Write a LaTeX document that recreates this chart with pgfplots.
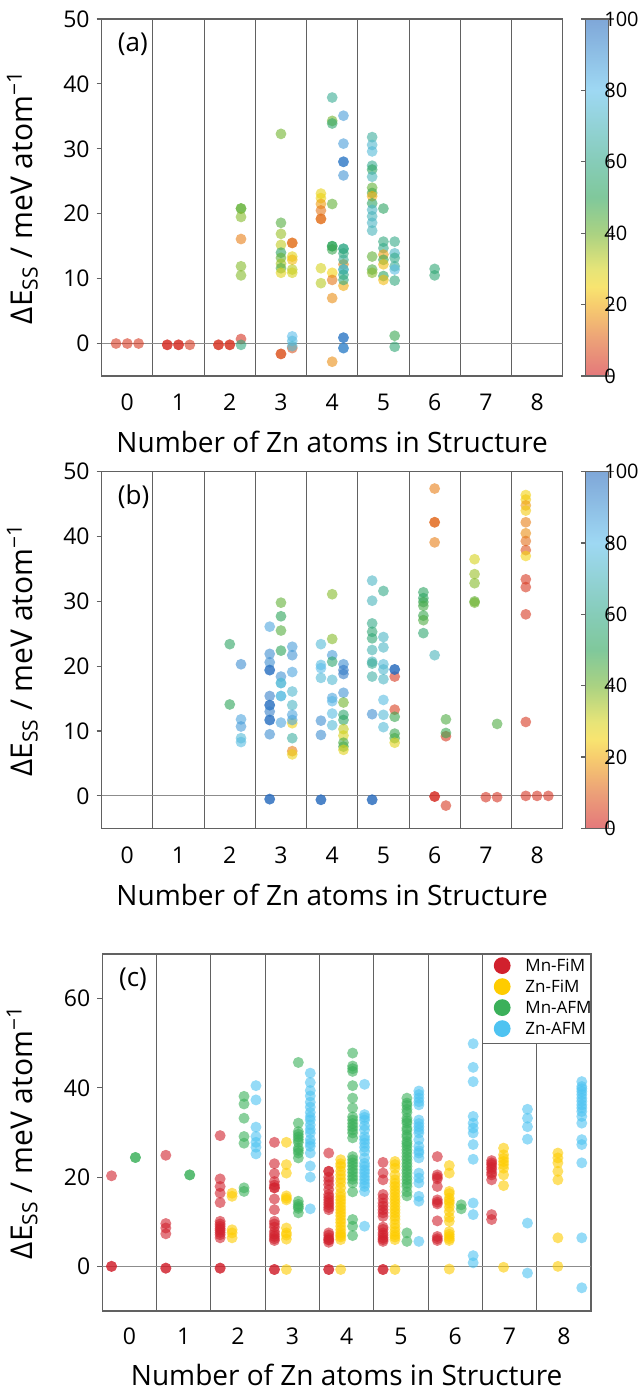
\documentclass[border=0pt]{standalone}
\usepackage{fontspec}
\setmainfont{Open Sans}
\usepackage{pgfplots}
\usepackage{pgfplotstable}
\pgfplotsset{compat=1.18}

\definecolor{frame}{gray}{0.38}
\definecolor{zeroline}{gray}{0.55}
\definecolor{mnfim}{RGB}{209,33,45}
\definecolor{znfim}{RGB}{254,204,0}
\definecolor{mnafm}{RGB}{59,176,90}
\definecolor{znafm}{RGB}{78,195,241}

\tikzset{divider/.style={draw=frame, line width=0.5pt}}

\pgfplotsset{
  /pgf/number format/assume math mode=true,
  colormap={energy}{rgb255(0pt)=(210,30,35) rgb255(10pt)=(223,97,30) rgb255(20pt)=(242,172,13) rgb255(25pt)=(243,210,17) rgb255(30pt)=(213,210,30) rgb255(40pt)=(113,180,47) rgb255(50pt)=(43,163,88) rgb255(60pt)=(53,170,137) rgb255(80pt)=(93,190,235) rgb255(100pt)=(42,108,190)},
  colormap={energylight}{rgb255(0pt)=(228,120,123) rgb255(10pt)=(236,160,120) rgb255(20pt)=(247,205,110) rgb255(25pt)=(248,228,112) rgb255(30pt)=(230,228,120) rgb255(40pt)=(170,210,130) rgb255(50pt)=(128,200,155) rgb255(60pt)=(134,204,184) rgb255(80pt)=(158,216,243) rgb255(100pt)=(127,167,216)},
  panel/.style={
    scale only axis,
    xmin=-0.5, xmax=8.5,
    xtick={0,...,8},
    xtick pos=bottom, ytick pos=left,
    axis line style={draw=frame, line width=0.6pt},
    major x tick style={draw=none},
    major y tick style={draw=frame, line width=0.6pt},
    tick align=outside,
    major tick length=2.5pt,
    tick label style={font=\fontsize{11.5}{12}\selectfont},
    xlabel={Number of Zn atoms in Structure},
    xlabel style={font=\fontsize{14}{14}\selectfont, at={(axis description cs:0.5,0)}, anchor=base},
    ylabel={ΔE\textsubscript{SS} / meV atom\textsuperscript{−1}},
    ylabel style={font=\fontsize{15}{15}\selectfont, anchor=center},
  },
  dots/.style={scatter, only marks, mark=*, mark size=2.7pt, scatter src=explicit,
    scatter/use mapped color={draw=mapped color, fill=mapped color, draw opacity=0, fill opacity=0.6}},
  cbar/.style={colorbar, colormap name=energy, point meta min=0, point meta max=100,
    colorbar style={
      colormap name=energylight,
      at={(parent axis.north east)}, anchor=north west, xshift=3pt,
      width=11.5pt,
      ytick={0,20,...,100},
      axis line style={draw=frame, line width=0.6pt},
      major tick length=2.5pt, tick align=outside,
      major tick style={draw=frame, line width=0.6pt},
      tick label style={font=\fontsize{10}{12}\selectfont, inner sep=0.6pt},
      yticklabel style={xshift=-5.5pt},
    }},
  typed/.style={only marks, mark=*, mark size=2.75pt, mark options={draw opacity=0, fill opacity=0.6}},
}

% (a) energies, x = Zn count + column offset, c = colour value
\pgfplotstableread{
x y c
-0.22 0 4
0 0 4
0.22 0 4
0.78 -0.2 2
0.78 -0.2 2
1 -0.2 2
1 -0.2 2
1.22 -0.2 4
1.78 -0.2 3
1.78 -0.2 3
2 -0.2 3
2 -0.2 3
2.22 20.8 42
2.22 20.8 42
2.22 19.5 38
2.22 16.1 14
2.22 11.9 38
2.22 10.5 38
2.22 0.7 3
2.22 -0.2 58
3 32.3 40
3 18.6 44
3 16.9 36
3 15.2 32
3 14.0 52
3 13.2 42
3 12.3 35
3 11.6 45
3 10.9 28
3 -1.6 8
3 -1.6 8
3.22 15.5 12
3.22 15.5 12
3.22 13.4 28
3.22 12.9 22
3.22 11.4 33
3.22 10.9 30
3.22 -0.7 8
3.22 1.1 80
3.22 0.4 78
3.22 -0.4 75
3.78 23.1 27
3.78 22.4 26
3.78 21.5 18
3.78 20.5 13
3.78 19.2 12
3.78 19.2 12
3.78 11.6 30
3.78 9.3 33
4 37.9 62
4 34.3 40
4 33.9 54
4 21.5 42
4 15.0 50
4 15.0 50
4 14.5 48
4 10.9 25
4 9.8 13
4 7.0 16
4 -2.8 16
4.22 35.1 88
4.22 30.8 88
4.22 28.0 96
4.22 28.0 96
4.22 25.9 90
4.22 12.2 15
4.22 8.9 20
4.22 14.6 60
4.22 14.6 60
4.22 13.9 58
4.22 12.9 62
4.22 11.4 72
4.22 11.4 72
4.22 10.6 60
4.22 9.8 58
4.22 0.9 96
4.22 0.9 96
4.22 -0.7 94
4.22 -0.7 94
4.78 31.8 64
4.78 30.6 74
4.78 29.6 76
4.78 27.4 62
4.78 26.8 52
4.78 25.7 70
4.78 24.0 42
4.78 23.2 46
4.78 22.7 20
4.78 21.6 52
4.78 20.6 72
4.78 19.6 70
4.78 18.6 72
4.78 17.4 70
4.78 13.4 42
4.78 11.4 45
4.78 10.9 38
5 20.8 52
5 15.7 58
5 14.7 60
5 13.7 18
5 12.9 48
5 12.2 22
5 10.4 52
5 9.8 22
5.22 15.7 60
5.22 13.9 72
5.22 13.2 60
5.22 11.9 62
5.22 11.4 78
5.22 9.7 58
5.22 1.2 48
5.22 -0.5 56
6 11.5 56
6 10.5 56
}\dataA

% (b)
\pgfplotstableread{
x y c
2 23.4 52
2 14.1 50
2.22 20.3 92
2.22 11.8 86
2.22 10.7 88
2.22 8.9 76
2.22 8.3 78
2.78 26.1 86
2.78 21.9 92
2.78 20.6 92
2.78 19.4 98
2.78 19.4 98
2.78 15.4 95
2.78 14.0 98
2.78 14.0 98
2.78 13.0 95
2.78 11.7 98
2.78 11.7 98
2.78 9.5 92
2.78 -0.5 100
2.78 -0.5 100
3 29.8 42
3 27.7 50
3 25.5 44
3 22.4 50
3 18.4 90
3 17.4 76
3 17.4 76
3 15.4 78
3 15.4 78
3 11.3 86
3.22 11.2 25
3.22 6.9 14
3.22 6.4 26
3.22 23.0 88
3.22 21.7 90
3.22 19.1 86
3.22 16.1 74
3.22 14.0 72
3.22 12.5 86
3.22 11.7 86
3.22 8.9 65
3.78 23.4 76
3.78 20.2 78
3.78 19.7 80
3.78 18.2 76
3.78 11.6 92
3.78 9.4 92
3.78 -0.6 100
3.78 -0.6 100
4 31.1 38
4 24.2 38
4 21.7 88
4 20.7 55
4 17.9 75
4 15.1 86
4 14.6 82
4 12.7 78
4 10.9 76
4.22 20.3 92
4.22 19.4 96
4.22 18.8 96
4.22 15.9 90
4.22 14.4 40
4.22 12.5 55
4.22 11.7 52
4.22 10.3 32
4.22 9.3 30
4.22 8.2 46
4.22 7.6 46
4.22 7.1 28
4.78 33.2 72
4.78 30.1 70
4.78 26.6 60
4.78 25.3 56
4.78 24.3 56
4.78 22.5 68
4.78 20.7 70
4.78 20.4 62
4.78 18.4 66
4.78 12.6 92
4.78 -0.6 100
4.78 -0.6 100
5 31.6 60
5 24.5 72
5 22.9 72
5 20.3 76
5 19.5 74
5 18.0 72
5 14.8 78
5 12.5 76
5 10.6 76
5.22 18.4 4
5.22 19.5 100
5.22 19.5 100
5.22 13.3 5
5.22 12.2 48
5.22 9.6 48
5.22 8.9 46
5.22 8.2 28
5.78 31.4 52
5.78 30.5 52
5.78 29.9 48
5.78 29.3 46
5.78 27.8 48
5.78 27.1 45
5.78 25.1 55
6 47.4 14
6 42.2 11
6 42.2 11
6 39.1 14
6 21.7 70
6 -0.1 2
6 -0.1 2
6.22 11.8 45
6.22 9.2 4
6.22 9.7 48
6.22 -1.5 4
6.78 36.5 30
6.78 34.2 36
6.78 32.8 38
6.78 30.0 42
6.78 29.8 40
7 -0.2 3
7.22 11.1 45
7.22 -0.2 3
7.78 46.4 25
7.78 45.7 24
7.78 44.8 18
7.78 44.0 24
7.78 42.2 14
7.78 40.5 16
7.78 39.3 12
7.78 37.9 8
7.78 37.0 25
7.78 33.4 4
7.78 32.2 4
7.78 28.0 4
7.78 11.4 4
7.78 0 3
8 0 3
8.22 0 3
}\dataB

% (c) one table per configuration
\pgfplotstableread{
x y
-0.33 20.3
-0.33 0
-0.33 0
0.67 24.9
0.67 9.6
0.67 8.6
0.67 7.3
0.67 -0.4
0.67 -0.4
1.67 29.3
1.67 19.6
1.67 17.9
1.67 16.4
1.67 14.3
1.67 10.1
1.67 9.5
1.67 9.0
1.67 8.5
1.67 8.1
1.67 7.6
1.67 7.1
1.67 6.4
1.67 -0.4
1.67 -0.4
2.67 27.8
2.67 23.0
2.67 20.8
2.67 19.0
2.67 18.2
2.67 17.6
2.67 17.6
2.67 15.1
2.67 12.7
2.67 10.1
2.67 9.5
2.67 8.8
2.67 7.8
2.67 7.2
2.67 6.7
2.67 6.2
2.67 5.8
2.67 -0.7
2.67 -0.7
3.67 25.4
3.67 21.3
3.67 21.3
3.67 20.0
3.67 19.2
3.67 18.3
3.67 17.2
3.67 16.1
3.67 15.5
3.67 14.9
3.67 14.3
3.67 13.8
3.67 13.2
3.67 12.7
3.67 7.5
3.67 7.0
3.67 6.4
3.67 6.0
3.67 5.9
3.67 5.4
3.67 -0.7
3.67 -0.7
4.67 23.3
4.67 20.9
4.67 19.4
4.67 16.1
4.67 15.2
4.67 14.2
4.67 13.5
4.67 12.7
4.67 12.0
4.67 11.2
4.67 8.8
4.67 8.3
4.67 7.5
4.67 7.0
4.67 6.4
4.67 6.0
4.67 5.6
4.67 -0.7
4.67 -0.7
5.67 24.6
5.67 20.5
5.67 20.0
5.67 19.6
5.67 17.9
5.67 14.9
5.67 14.4
5.67 14.0
5.67 10.2
5.67 6.7
5.67 6.2
5.67 5.8
6.67 23.7
6.67 23.2
6.67 22.8
6.67 22.2
6.67 21.7
6.67 21.0
6.67 20.5
6.67 19.4
6.67 11.6
6.67 10.5
}\mnfimdata

\pgfplotstableread{
x y
1.89 16.4
1.89 15.7
1.89 8.2
1.89 7.5
1.89 6.4
2.89 27.8
2.89 22.8
2.89 20.9
2.89 15.8
2.89 15.3
2.89 14.9
2.89 8.6
2.89 7.5
2.89 7.0
2.89 6.1
2.89 -0.7
3.89 23.9
3.89 23.0
3.89 22.4
3.89 21.4
3.89 20.5
3.89 19.6
3.89 18.7
3.89 17.6
3.89 16.4
3.89 15.6
3.89 14.9
3.89 14.2
3.89 13.4
3.89 12.7
3.89 12.0
3.89 11.3
3.89 10.5
3.89 9.8
3.89 9.0
3.89 8.2
3.89 7.5
3.89 7.0
3.89 6.6
3.89 6.0
3.89 -0.7
4.89 23.5
4.89 22.8
4.89 22.0
4.89 20.5
4.89 19.4
4.89 18.6
4.89 17.9
4.89 17.1
4.89 16.4
4.89 15.6
4.89 14.9
4.89 14.2
4.89 13.4
4.89 12.7
4.89 12.0
4.89 11.2
4.89 10.5
4.89 9.5
4.89 8.6
4.89 7.8
4.89 7.1
4.89 6.6
4.89 6.0
4.89 -0.7
5.89 22.6
5.89 20.9
5.89 16.8
5.89 16.3
5.89 15.3
5.89 14.7
5.89 14.2
5.89 13.3
5.89 12.3
5.89 11.0
5.89 10.1
5.89 7.8
5.89 7.2
5.89 6.7
5.89 6.2
5.89 5.8
5.89 -0.6
6.89 26.5
6.89 25.0
6.89 24.2
6.89 23.5
6.89 22.8
6.89 22.0
6.89 20.5
6.89 18.1
6.89 -0.2
7.89 25.4
7.89 24.3
7.89 23.2
7.89 21.3
7.89 19.4
7.89 6.4
7.89 0
}\znfimdata

\pgfplotstableread{
x y
0.11 24.4
0.11 24.4
1.11 20.5
1.11 20.5
2.11 38.1
2.11 36.4
2.11 33.2
2.11 29.1
2.11 27.6
2.11 17.6
2.11 16.8
3.11 45.7
3.11 32.1
3.11 30.2
3.11 29.6
3.11 29.0
3.11 28.4
3.11 27.8
3.11 26.5
3.11 26.0
3.11 25.4
3.11 24.3
3.11 14.6
3.11 13.9
3.11 13.4
3.11 13.0
3.11 12.0
4.11 47.8
4.11 44.9
4.11 44.3
4.11 43.7
4.11 40.5
4.11 37.7
4.11 35.5
4.11 33.5
4.11 32.8
4.11 32.0
4.11 31.3
4.11 30.6
4.11 29.9
4.11 28.8
4.11 24.6
4.11 23.9
4.11 23.2
4.11 22.5
4.11 21.7
4.11 21.0
4.11 20.2
4.11 19.5
4.11 18.7
4.11 16.7
4.11 10.5
4.11 9.0
4.11 6.9
5.11 37.7
5.11 36.6
5.11 36.1
5.11 35.2
5.11 34.5
5.11 33.2
5.11 32.6
5.11 32.1
5.11 31.0
5.11 30.5
5.11 29.5
5.11 29.0
5.11 28.0
5.11 27.5
5.11 26.9
5.11 26.1
5.11 25.4
5.11 24.6
5.11 23.9
5.11 23.1
5.11 22.4
5.11 21.6
5.11 20.9
5.11 20.1
5.11 19.4
5.11 18.6
5.11 17.9
5.11 16.7
5.11 15.8
5.11 7.5
5.11 5.6
6.11 13.8
6.11 12.9
}\mnafmdata

\pgfplotstableread{
x y
2.33 40.5
2.33 37.3
2.33 31.2
2.33 29.1
2.33 27.8
2.33 26.7
2.33 25.2
3.33 43.3
3.33 41.2
3.33 39.4
3.33 38.2
3.33 36.8
3.33 35.7
3.33 34.5
3.33 33.5
3.33 32.8
3.33 31.7
3.33 30.7
3.33 29.9
3.33 28.4
3.33 27.6
3.33 26.9
3.33 25.4
3.33 22.5
3.33 20.0
3.33 12.9
4.33 40.8
4.33 34.0
4.33 33.4
4.33 32.8
4.33 31.5
4.33 30.6
4.33 29.1
4.33 28.4
4.33 27.6
4.33 26.7
4.33 25.8
4.33 24.3
4.33 23.1
4.33 22.4
4.33 21.6
4.33 20.9
4.33 20.1
4.33 19.4
4.33 18.6
4.33 17.9
4.33 16.8
4.33 9.0
5.33 39.3
5.33 38.5
5.33 37.7
5.33 36.9
5.33 36.2
5.33 32.8
5.33 32.0
5.33 31.3
5.33 30.6
5.33 29.9
5.33 28.4
5.33 26.9
5.33 25.9
5.33 25.4
5.33 24.3
5.33 20.9
5.33 19.8
5.33 18.7
5.33 15.7
5.33 14.6
5.33 5.6
6.33 49.9
6.33 44.6
6.33 41.4
6.33 33.6
6.33 32.1
6.33 31.0
6.33 29.9
6.33 27.3
6.33 24.0
6.33 14.2
6.33 11.6
6.33 2.4
6.33 0.8
7.33 35.2
7.33 33.2
7.33 31.3
7.33 28.5
7.33 9.7
7.33 -1.5
8.33 41.4
8.33 40.3
8.33 39.8
8.33 39.2
8.33 38.5
8.33 37.7
8.33 37.0
8.33 36.2
8.33 35.5
8.33 34.7
8.33 33.6
8.33 32.1
8.33 28.4
8.33 27.3
8.33 23.2
8.33 6.4
8.33 -4.8
}\znafmdata

\begin{document}
\begin{tikzpicture}
\useasboundingbox (0,0) rectangle (321.5pt,696pt);

% panel (a)
\begin{axis}[panel, cbar, at={(50.85pt,508pt)}, anchor=south west,
  width=230.5pt, height=178.5pt,
  ymin=-5, ymax=50, ytick={0,10,...,50},
  xticklabel style={anchor=base, yshift=-15pt},
  xlabel style={yshift=-38.5pt},
  ylabel style={at={(axis description cs:-0.172,0.5)}}]
  \foreach \d in {0.5,1.5,...,7.5} {\edef\tmp{\noexpand\draw[divider] (axis cs:\d,-5) -- (axis cs:\d,50);}\tmp}
  \draw[zeroline, line width=0.5pt] (axis cs:-0.5,0) -- (axis cs:8.5,0);
  \addplot[dots] table[x=x, y=y, meta=c] {\dataA};
  \node[anchor=west, font=\fontsize{13}{13}\selectfont] at (axis description cs:0.02,0.93) {(a)};
\end{axis}

% panel (b)
\begin{axis}[panel, cbar, at={(50.85pt,281.85pt)}, anchor=south west,
  width=230.5pt, height=178.3pt,
  ymin=-5, ymax=50, ytick={0,10,...,50},
  xticklabel style={anchor=base, yshift=-15pt},
  xlabel style={yshift=-38.5pt},
  ylabel style={at={(axis description cs:-0.172,0.5)}}]
  \foreach \d in {0.5,1.5,...,7.5} {\edef\tmp{\noexpand\draw[divider] (axis cs:\d,-5) -- (axis cs:\d,50);}\tmp}
  \draw[zeroline, line width=0.5pt] (axis cs:-0.5,0) -- (axis cs:8.5,0);
  \addplot[dots] table[x=x, y=y, meta=c] {\dataB};
  \node[anchor=west, font=\fontsize{13}{13}\selectfont] at (axis description cs:0.02,0.93) {(b)};
\end{axis}

% panel (c)
\begin{axis}[panel, at={(51.15pt,40.5pt)}, anchor=south west,
  width=244.35pt, height=178.5pt,
  ymin=-10, ymax=70, ytick={0,20,40,60},
  xticklabel style={anchor=base, yshift=-14pt},
  xlabel style={yshift=-37.3pt},
  ylabel style={at={(axis description cs:-0.164,0.5)}},
  legend style={at={(0.7778,1)}, anchor=north west, draw=none, fill=none,
    font=\fontsize{8.5}{10}\selectfont, row sep=2.1pt, inner xsep=5.5pt, inner ysep=1.4pt,
    nodes={inner sep=0.8pt, text depth=0pt},
    /tikz/every odd column/.append style={column sep=6.6pt}},
  legend cell align=left,
  legend image code/.code={\draw[#1, mark size=4.2pt, mark options={draw opacity=0, fill opacity=1}] plot coordinates {(0pt,0pt)};}]
  \foreach \d in {0.5,1.5,...,6.5} {\edef\tmp{\noexpand\draw[divider] (axis cs:\d,-10) -- (axis cs:\d,70);}\tmp}
  \draw[divider] (axis cs:7.5,-10) -- (axis cs:7.5,50);
  \draw[divider] (axis cs:6.5,50) -- (axis cs:8.5,50);
  \draw[zeroline, line width=0.5pt] (axis cs:-0.5,0) -- (axis cs:8.5,0);
  \addplot[typed, color=mnfim] table[x=x, y=y] {\mnfimdata};
  \addlegendentry{Mn-FiM}
  \addplot[typed, color=znfim] table[x=x, y=y] {\znfimdata};
  \addlegendentry{Zn-FiM}
  \addplot[typed, color=mnafm] table[x=x, y=y] {\mnafmdata};
  \addlegendentry{Mn-AFM}
  \addplot[typed, color=znafm] table[x=x, y=y] {\znafmdata};
  \addlegendentry{Zn-AFM}
  \node[anchor=west, font=\fontsize{13}{13}\selectfont] at (axis description cs:0.02,0.93) {(c)};
\end{axis}
\end{tikzpicture}
\end{document}
